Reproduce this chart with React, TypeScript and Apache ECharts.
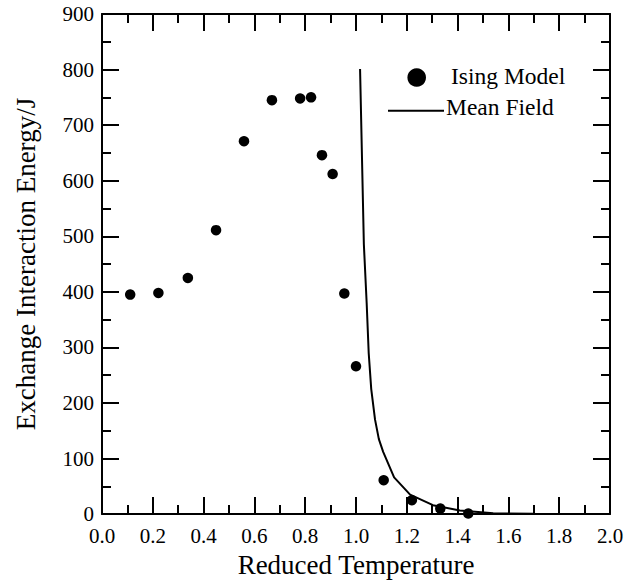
import React, { useEffect, useRef } from "react";
import * as echarts from "echarts";

const isingT = [0.111, 0.222, 0.338, 0.449, 0.559, 0.669, 0.780, 0.823, 0.866, 0.908, 0.954, 1.0, 1.109, 1.220, 1.332, 1.442];
const isingE = [395, 398, 425, 511, 671, 745, 748, 750, 646, 612, 397, 266, 61, 25, 10, 1];

const mfT = [1.016, 1.031, 1.042, 1.050, 1.060, 1.075, 1.090, 1.107, 1.150, 1.213, 1.303, 1.409, 1.540, 1.700];
const mfE = [801, 485, 380, 290, 225, 170, 135, 112, 66, 35, 16, 6.5, 1.5, 0.5];

const xTicks = [0, 0.2, 0.4, 0.6, 0.8, 1.0, 1.2, 1.4, 1.6, 1.8, 2.0];
const yTicks = [0, 100, 200, 300, 400, 500, 600, 700, 800, 900];

const legendNames = ["Ising Model", "Mean Field"];

const FONT = "'Liberation Serif', 'Times New Roman', serif";

export default function App() {
  const ref = useRef<HTMLDivElement>(null);
  useEffect(() => {
    if (!ref.current) return;
    const chart = echarts.init(ref.current, undefined, { renderer: "svg" });
    const axisCommon = {
      axisLine: { show: true, onZero: false, lineStyle: { color: "#000", width: 2 } },
      axisTick: { show: true, inside: true, length: 17, lineStyle: { color: "#000", width: 2 } },
      minorTick: { show: true, splitNumber: 2, length: 9, lineStyle: { color: "#000", width: 2 } },
      splitLine: { show: false },
      minorSplitLine: { show: false },
    };
    const xMin = xTicks[0];
    const xMax = xTicks[xTicks.length - 1];
    const xInt = xTicks[1] - xTicks[0];
    const yMin = yTicks[0];
    const yMax = yTicks[yTicks.length - 1];
    const yInt = yTicks[1] - yTicks[0];
    chart.setOption({
      animation: false,
      backgroundColor: "#fff",
      textStyle: { fontFamily: FONT, color: "#000" },
      grid: { left: 102, right: 25, top: 14, bottom: 65, containLabel: false },
      graphic: [
        { type: "circle", shape: { cx: 416.7, cy: 77.5, r: 9.3 }, style: { fill: "#000" } },
        {
          type: "text",
          x: 451,
          y: 76,
          style: { text: legendNames[0], fontFamily: FONT, fontSize: 23.5, fill: "#000", verticalAlign: "middle", align: "left" },
        },
        { type: "line", shape: { x1: 388, y1: 110.7, x2: 444, y2: 110.7 }, style: { stroke: "#000", lineWidth: 2 } },
        {
          type: "text",
          x: 446,
          y: 107,
          style: { text: legendNames[1], fontFamily: FONT, fontSize: 23.5, fill: "#000", verticalAlign: "middle", align: "left" },
        },
      ],
      xAxis: [
        {
          type: "value",
          position: "bottom",
          min: xMin,
          max: xMax,
          interval: xInt,
          ...axisCommon,
          axisLabel: {
            color: "#000",
            fontFamily: FONT,
            fontSize: 21,
            margin: 11,
            formatter: (v: number) => v.toFixed(1),
          },
          name: "Reduced Temperature",
          nameLocation: "middle",
          nameGap: 36,
          nameTextStyle: { fontFamily: FONT, fontSize: 27, color: "#000" },
        },
        {
          type: "value",
          position: "top",
          min: xMin,
          max: xMax,
          interval: xInt,
          ...axisCommon,
          axisLabel: { show: false },
        },
      ],
      yAxis: [
        {
          type: "value",
          position: "left",
          min: yMin,
          max: yMax,
          interval: yInt,
          ...axisCommon,
          axisLabel: { color: "#000", fontFamily: FONT, fontSize: 21, margin: 8 },
          name: "Exchange Interaction Energy/J",
          nameLocation: "middle",
          nameGap: 63,
          nameTextStyle: { fontFamily: FONT, fontSize: 27, color: "#000" },
        },
        {
          type: "value",
          position: "right",
          min: yMin,
          max: yMax,
          interval: yInt,
          ...axisCommon,
          axisLabel: { show: false },
        },
      ],
      series: [
        {
          name: legendNames[0],
          type: "scatter",
          xAxisIndex: 0,
          yAxisIndex: 0,
          symbol: "circle",
          symbolSize: 10.5,
          itemStyle: { color: "#000", opacity: 1 },
          data: isingT.map((t, i) => [t, isingE[i]]),
        },
        {
          name: legendNames[1],
          type: "line",
          xAxisIndex: 0,
          yAxisIndex: 0,
          symbol: "none",
          showSymbol: false,
          lineStyle: { color: "#000", width: 2 },
          itemStyle: { color: "#000" },
          data: mfT.map((t, i) => [t, mfE[i]]),
        },
      ],
    });
    return () => chart.dispose();
  }, []);
  return <div ref={ref} style={{ width: 635, height: 583, position: "absolute", left: 0, top: 0 }} />;
}
